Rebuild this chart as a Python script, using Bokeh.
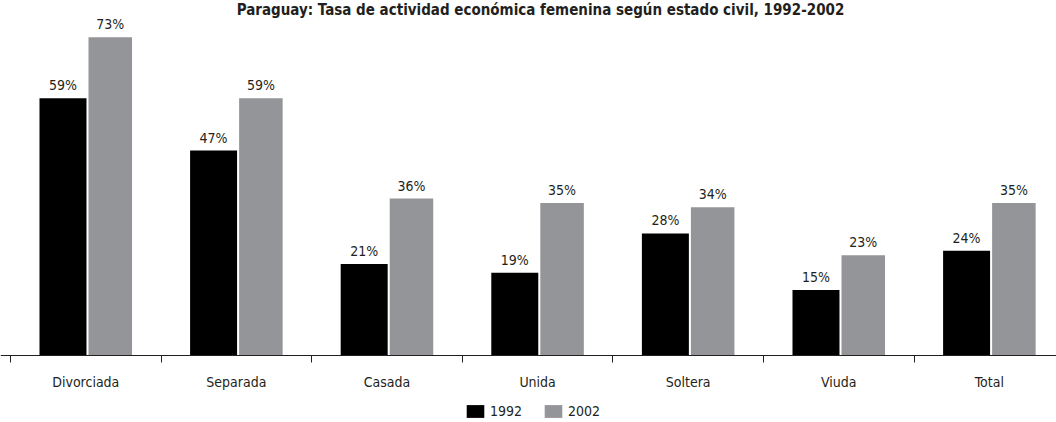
from bokeh.plotting import figure
from bokeh.models import (ColumnDataSource, FixedTicker, Legend, LegendItem, Label,
                          Range1d, LinearAxis)
from bokeh.core.properties import value
from bokeh.embed import file_html
from bokeh.resources import INLINE

title = "Paraguay: Tasa de actividad económica femenina según estado civil, 1992-2002"
categories = ["Divorciada", "Separada", "Casada", "Unida", "Soltera", "Viuda", "Total"]
v1992 = [59, 47, 21, 19, 28, 15, 24]
v2002 = [73, 59, 36, 35, 34, 23, 35]
series = ["1992", "2002"]

FONT = "DejaVu Sans Condensed"
BLACK = "#000000"
GRAY = "#939598"
TXT = "#231f20"

W, H = 1056, 422
px_per_cat = 150.6
left_px = 10          # canvas x of first category boundary
base_px = 355         # canvas y of the zero line
px_per_pct = 4.36

idx = list(range(len(categories)))
x1 = [i + 0.3485 for i in idx]
x2 = [i + 0.6625 for i in idx]

src1 = ColumnDataSource(dict(x=x1, top=v1992, lab=[f"{v}%" for v in v1992]))
src2 = ColumnDataSource(dict(x=x2, top=v2002, lab=[f"{v}%" for v in v2002]))

p = figure(width=W, height=H, output_backend="svg", toolbar_location=None,
           x_range=Range1d(-left_px / px_per_cat, (W - left_px) / px_per_cat),
           y_range=Range1d(-(H - base_px) / px_per_pct, base_px / px_per_pct),
           x_axis_location=None, y_axis_location=None,
           min_border_left=0, min_border_right=0, min_border_top=0,
           min_border_bottom=0)
p.outline_line_color = None
p.grid.visible = False
p.background_fill_color = "white"
p.border_fill_color = "white"

r1 = p.vbar(x="x", top="top", width=0.312, bottom=0, source=src1,
            fill_color=BLACK, line_color=None)
r2 = p.vbar(x="x", top="top", width=0.289, bottom=0, source=src2,
            fill_color=GRAY, line_color=None)

for s in (src1, src2):
    p.text(x="x", y="top", text="lab", source=s, text_align="center",
           text_baseline="alphabetic", y_offset=-13, text_font=value(FONT),
           text_font_size="14px", text_color=TXT)

centers = [i + 0.5 for i in idx]
ax = LinearAxis(fixed_location=0,
                ticker=FixedTicker(ticks=centers,
                                   minor_ticks=[float(i) for i in range(len(categories) + 1)]))
ax.major_label_overrides = {c: name for c, name in zip(centers, categories)}
ax.major_tick_out = 0
ax.major_tick_in = 0
ax.minor_tick_out = 7
ax.minor_tick_in = 0
ax.minor_tick_line_color = TXT
ax.axis_line_color = TXT
ax.axis_line_width = 1.2
ax.major_label_standoff = 11
ax.major_label_text_font = FONT
ax.major_label_text_font_size = "14px"
ax.major_label_text_color = TXT
p.add_layout(ax, "below")

legend = Legend(items=[LegendItem(label=series[0], renderers=[r1]),
                       LegendItem(label=series[1], renderers=[r2])],
                orientation="horizontal", location=(464, 3),
                glyph_width=22, glyph_height=16, label_standoff=4, spacing=20,
                padding=0, margin=0, border_line_color=None,
                background_fill_alpha=0, label_text_font=FONT,
                label_text_font_size="14px", label_text_color=TXT)
p.add_layout(legend, "center")

p.add_layout(Label(x=W / 2 + 12, y=H, x_units="screen", y_units="screen",
                   text=title, text_align="center", text_baseline="top",
                   text_font=FONT, text_font_style="bold", text_font_size="15px",
                   text_color=TXT))

open("out.html", "w").write(file_html(p, INLINE))
